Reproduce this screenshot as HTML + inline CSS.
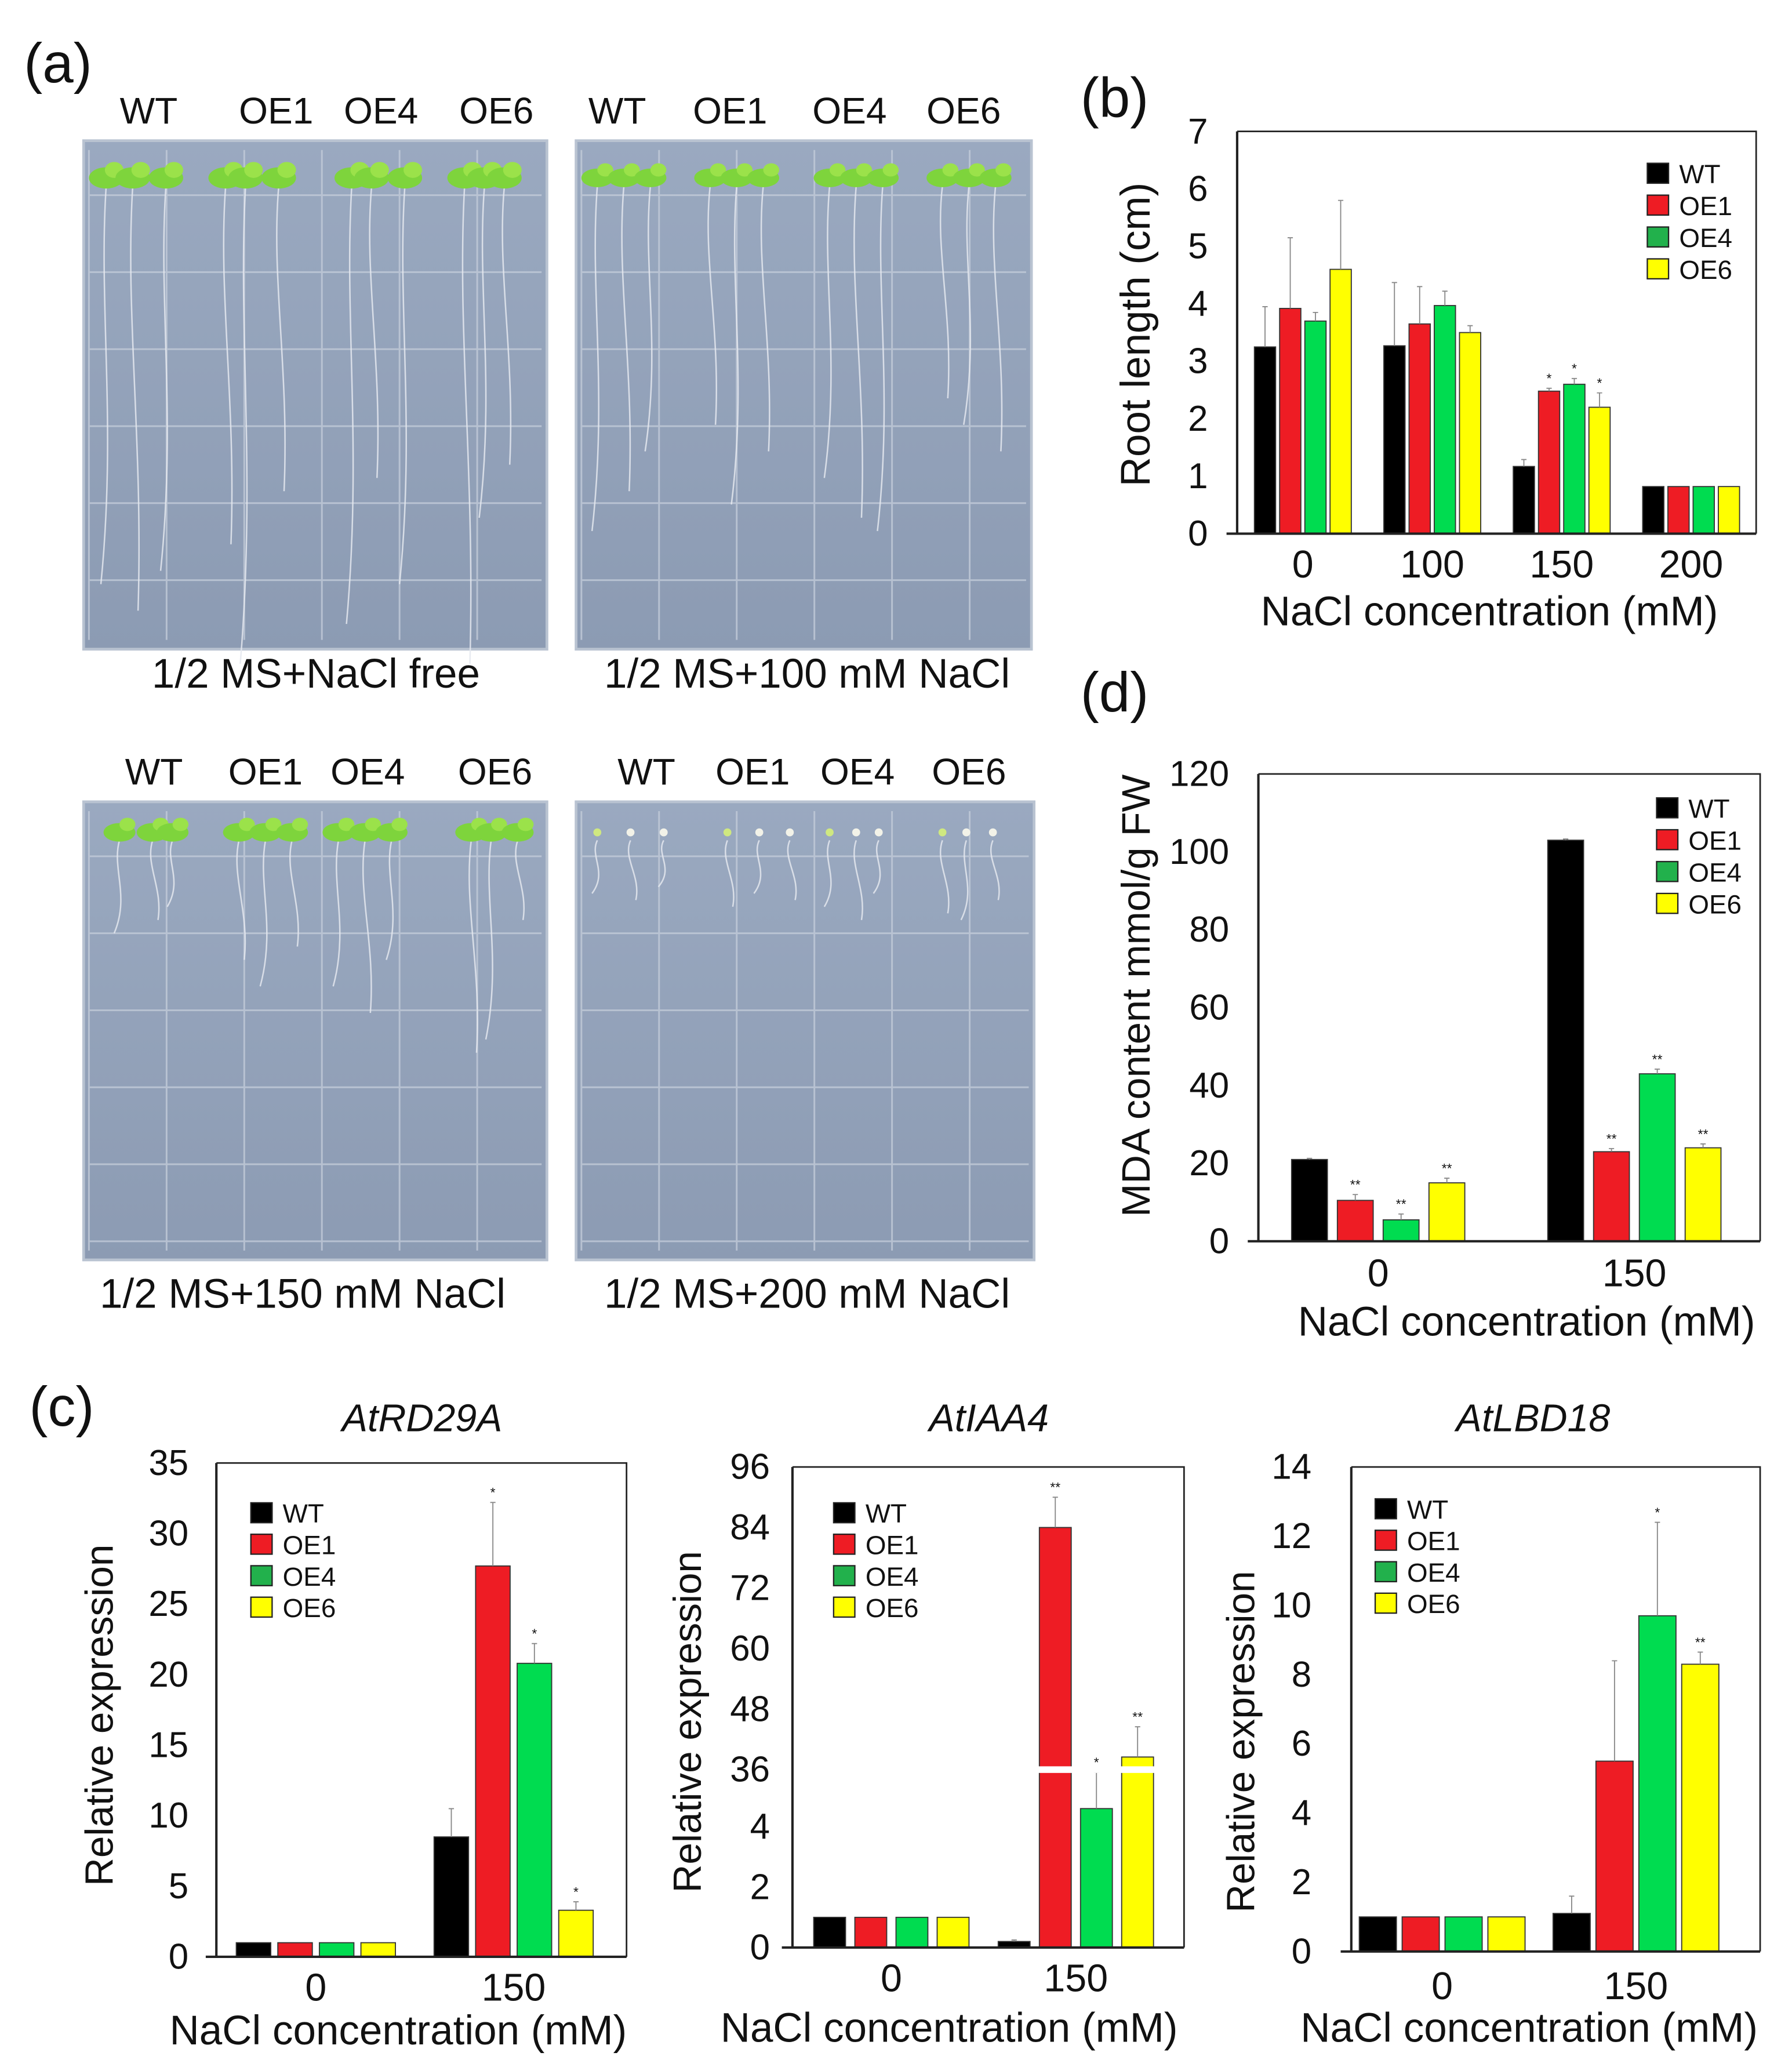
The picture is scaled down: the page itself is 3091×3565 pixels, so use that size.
<!DOCTYPE html>
<html><head><meta charset="utf-8"><style>
html,body{margin:0;padding:0;background:#fff}
svg{display:block}
text{font-family:"Liberation Sans",sans-serif;fill:#111}
</style></head><body>
<svg id="fig" width="3091" height="3565" viewBox="0 0 1350 1557" preserveAspectRatio="none" xmlns="http://www.w3.org/2000/svg">
<defs>
<linearGradient id="pg" x1="0" y1="0" x2="0" y2="1"><stop offset="0" stop-color="#9aa9c0"/><stop offset="1" stop-color="#8c9bb3"/></linearGradient>
</defs>
<rect width="1350" height="1557" fill="#fff"/>
<g id="photos"></g>
<g id="charts"></g>
</svg>
<script>
const NS="http://www.w3.org/2000/svg";
const fig=document.getElementById('fig');
function el(tag,attrs,parent,txt){const e=document.createElementNS(NS,tag);for(const k in attrs)e.setAttribute(k,attrs[k]);if(txt!==undefined)e.textContent=txt;(parent||fig).appendChild(e);return e;}
const COLORS=["#000000","#ee1c24","#00dc50","#ffff00"];
const LCOLORS=["#000000","#ee1c24","#22b14c","#ffff00"];
const SERIES=["WT","OE1","OE4","OE6"];

// ---- data ----
const bCats=["0","100","150","200"];
const bWT=[3.25,3.27,1.17,0.82];
const bOE1=[3.92,3.65,2.48,0.82];
const bOE4=[3.7,3.97,2.6,0.82];
const bOE6=[4.6,3.5,2.2,0.82];
const bErr=[[0.7,1.1,0.12,0],[1.23,0.65,0.05,0],[0.15,0.25,0.1,0],[1.2,0.12,0.25,0]];
const bTicks=[0,1,2,3,4,5,6,7];

const dCats=["0","150"];
const dWT=[21,103];
const dOE1=[10.5,23];
const dOE4=[5.5,43];
const dOE6=[15,24];
const dErr=[[0.3,0.3],[1.5,0.8],[1.5,1.2],[1.2,1]];
const dTicks=[0,20,40,60,80,100,120];

const c1Cats=["0","150"];
const c1WT=[1,8.5];
const c1OE1=[1,27.7];
const c1OE4=[1,20.8];
const c1OE6=[1,3.3];
const c1Err=[[0,2],[0,4.5],[0,1.4],[0,0.6]];
const c1Ticks=[0,5,10,15,20,25,30,35];

const c2Cats=["0","150"];
const c2WT=[1,0.2];
const c2OE1=[1,84];
const c2OE4=[1,4.6];
const c2OE6=[1,38.5];
const c2Err=[[0,0.05],[0,6],[0,1.2],[0,6]];
const c2TickLabels=["0","2","4","36","48","60","72","84","96"];
const c2TickValues=[0,2,4,36,48,60,72,84,96];

const c3Cats=["0","150"];
const c3WT=[1,1.1];
const c3OE1=[1,5.5];
const c3OE4=[1,9.7];
const c3OE6=[1,8.3];
const c3Err=[[0,0.5],[0,2.9],[0,2.7],[0,0.35]];
const c3Ticks=[0,2,4,6,8,10,12,14];

// ---- generic bar chart ----
function chart(cfg){
  const g=el('g',{},document.getElementById('charts'));
  
  
  const {x0,x1,y0,y1}=cfg.frame;
  const ys=cfg.yscale;
  const series=cfg.series;
  for(let s=0;s<4;s++){
    for(let c=0;c<cfg.cats.length;c++){
      const v=series[s][c];
      const bx=cfg.groupX(c)+s*cfg.pitch;
      const top=ys(v);
      const r=el('rect',{x:bx,y:top,width:cfg.bw,height:y0-top,fill:COLORS[s],stroke:"#333","stroke-width":0.8},g);
      
      
      const e=cfg.err[s][c];
      if(e>0){
        const et=ys(v+e);const cx=bx+cfg.bw/2;
        const l=el('path',{d:`M${cx},${top}V${et}M${cx-2},${et}H${cx+2}`,stroke:"#888","stroke-width":0.8,fill:"none"},g);
        
        
      }
      if(cfg.stars&&cfg.stars[s][c]){
        const st=el('text',{x:bx+cfg.bw/2,y:ys(v+e)-4,"text-anchor":"middle","font-size":10,fill:"#444"},g,cfg.stars[s][c]);
        
        
      }
    }
  }
  if(cfg.breakY){
    const b=el('rect',{x:cfg.groupX(1)-2,y:cfg.breakY-2.5,width:4*cfg.pitch+4,height:5,fill:"#fff"},g);
    
    
    const b2=el('rect',{x:x0-2,y:cfg.breakY-2.5,width:5,height:5,fill:"#fff"},g);
    
    
  }
  const f=el('path',{d:`M${x0},${y1}H${x1}V${y0}M${x0},${y0}H${x1}`,fill:"none",stroke:"#222","stroke-width":1.2},g);
  
  
  const ya=el('path',{d:`M${x0},${y1}V${y0}`,fill:"none",stroke:"#222","stroke-width":1.8},g);
  
  
  const xa=el('path',{d:`M${x0-8},${y0}H${x1}`,fill:"none",stroke:"#222","stroke-width":1.8},g);
  
  
  for(let i=0;i<cfg.tickValues.length;i++){
    const t=el('text',{x:cfg.tickX,y:ys(cfg.tickValues[i])+9,"text-anchor":"end","font-size":27},g,cfg.tickLabels[i]);
    
    
  }
  for(let c=0;c<cfg.cats.length;c++){
    const cx=cfg.groupX(c)+(3*cfg.pitch+cfg.bw)/2;
    const t=el('text',{x:cx,y:cfg.xlabY,"text-anchor":"middle","font-size":29},g,cfg.cats[c]);
    
    
  }
  const xt=el('text',{x:cfg.xtitle[0],y:cfg.xtitle[1],"text-anchor":"middle","font-size":31},g,"NaCl concentration (mM)");
  
  
  const yt=el('text',{x:0,y:0,"text-anchor":"middle","font-size":cfg.yfs||30,transform:`translate(${cfg.ytitle[0]},${cfg.ytitle[1]}) rotate(-90)`},g,cfg.ytitleText);
  
  
  if(cfg.title){
    const tt=el('text',{x:cfg.title[0],y:cfg.title[1],"text-anchor":"middle","font-size":29,"font-style":"italic"},g,cfg.title[2]);
    
    
  }
  for(let s=0;s<4;s++){
    const ly=cfg.legend[1]+s*cfg.legend[2];
    const r=el('rect',{x:cfg.legend[0],y:ly-8,width:16,height:15,fill:LCOLORS[s],stroke:"#222","stroke-width":1},g);
    
    
    const t=el('text',{x:cfg.legend[0]+24,y:ly+7,"font-size":20},g,SERIES[s]);
    
    
  }
  if(cfg.panel){
    const p=el('text',{x:cfg.panel[0],y:cfg.panel[1],"font-size":42},g,cfg.panel[2]);
    
    
  }
}
function lin(v0,p0,v1,p1){return v=>p0+(v-v0)*(p1-p0)/(v1-v0);}

chart({name:'root-length-chart',frame:{x0:932,x1:1323,y0:402,y1:99},yscale:lin(0,402,7,99),
 cats:bCats,series:[bWT,bOE1,bOE4,bOE6],err:bErr,bw:16,pitch:19,groupX:c=>945+c*97.5,
 stars:[["","","",""],["","","*",""],["","","*",""],["","","*",""]],
 tickValues:bTicks,tickLabels:bTicks.map(String),tickX:910,xlabY:435,xtitle:[1122,471],yfs:31,
 ytitle:[866,252],ytitleText:"Root length (cm)",legend:[1241,131,24],panel:[814,88,"(b)"]});
chart({name:'mda-content-chart',frame:{x0:948,x1:1326,y0:935,y1:583},yscale:lin(0,935,120,583),
 cats:dCats,series:[dWT,dOE1,dOE4,dOE6],err:dErr,bw:27,pitch:34.5,groupX:c=>973+c*193,
 stars:[["",""],["**","**"],["**","**"],["**","**"]],
 tickValues:dTicks,tickLabels:dTicks.map(String),tickX:926,xlabY:969,xtitle:[1150,1006],yfs:30,
 ytitle:[866,750],ytitleText:"MDA content mmol/g FW",legend:[1248,609,24],panel:[814,536,"(d)"]});
chart({name:'atrd29a-expression-chart',frame:{x0:163,x1:472,y0:1474,y1:1102},yscale:lin(0,1474,35,1102),
 cats:c1Cats,series:[c1WT,c1OE1,c1OE4,c1OE6],err:c1Err,bw:26,pitch:31.3,groupX:c=>178+c*149,
 stars:[["",""],["","*"],["","*"],["","*"]],
 tickValues:c1Ticks,tickLabels:c1Ticks.map(String),tickX:142,xlabY:1507,xtitle:[300,1540],yfs:29.5,
 ytitle:[85,1292],ytitleText:"Relative expression",legend:[189,1140,23.7],title:[318,1078,"AtRD29A"],panel:[22,1074,"(c)"]});
const c2scale=v=> v<=6 ? 1467 - v*22.75 : 1333 - (v-36)*3.8;
chart({name:'atiaa4-expression-chart',frame:{x0:597,x1:892,y0:1467,y1:1105},yscale:c2scale,
 cats:c2Cats,series:[c2WT,c2OE1,c2OE4,c2OE6],err:c2Err,bw:24,pitch:31,groupX:c=>613+c*139,breakY:1333,
 stars:[["",""],["","**"],["","*"],["","**"]],
 tickValues:c2TickValues,tickLabels:c2TickLabels,tickX:580,xlabY:1500,xtitle:[715,1538],yfs:29.5,
 ytitle:[528,1297],ytitleText:"Relative expression",legend:[628,1140,23.7],title:[745,1078,"AtIAA4"]});
chart({name:'atlbd18-expression-chart',frame:{x0:1018,x1:1326,y0:1470,y1:1105},yscale:lin(0,1470,14,1105),
 cats:c3Cats,series:[c3WT,c3OE1,c3OE4,c3OE6],err:c3Err,bw:28,pitch:32.3,groupX:c=>1024+c*146,
 stars:[["",""],["",""],["","*"],["","**"]],
 tickValues:c3Ticks,tickLabels:c3Ticks.map(String),tickX:988,xlabY:1506,xtitle:[1152,1538],yfs:29.5,
 ytitle:[945,1312],ytitleText:"Relative expression",legend:[1036,1137,23.7],title:[1155,1078,"AtLBD18"]});

// ---- photos panel (a) ----
const P=document.getElementById('photos');
const pa=el('text',{x:18,y:62,"font-size":42},P,"(a)");


const plates=[
 {x:62,y:105,w:351,h:385,cap:"1/2 MS+NaCl free",capx:238,capy:518,lab:[[112,"WT"],[208,"OE1"],[287,"OE4"],[374,"OE6"]],laby:93,
  roots:[[80,300],[100,320],[125,290],[170,270],[185,360],[210,230],[265,330],[280,220],[305,300],[350,360],[365,250],[380,210]],leaf:9},
 {x:433,y:105,w:345,h:385,cap:"1/2 MS+100 mM NaCl",capx:608,capy:518,lab:[[465,"WT"],[550,"OE1"],[640,"OE4"],[726,"OE6"]],laby:93,
  roots:[[450,260],[470,230],[490,200],[535,180],[555,240],[575,200],[625,220],[645,250],[665,260],[710,160],[730,180],[750,200]],leaf:8},
 {x:62,y:603,w:351,h:347,cap:"1/2 MS+150 mM NaCl",capx:228,capy:985,lab:[[116,"WT"],[200,"OE1"],[277,"OE4"],[373,"OE6"]],laby:591,
  roots:[[90,70],[115,60],[130,50],[180,90],[200,110],[220,80],[255,110],[275,130],[295,90],[355,160],[370,150],[390,60]],leaf:8},
 {x:433,y:603,w:347,h:347,cap:"1/2 MS+200 mM NaCl",capx:608,capy:985,lab:[[487,"WT"],[567,"OE1"],[646,"OE4"],[730,"OE6"]],laby:591,
  roots:[[450,40],[475,45],[500,35],[548,50],[572,40],[595,45],[625,50],[645,60],[662,40],[710,55],[728,60],[748,45]],leaf:4}
];
plates.forEach((p,i)=>{
  const g=el('g',{},P);
  
  
  el('rect',{x:p.x,y:p.y,width:p.w,height:p.h,fill:"url(#pg)"},g);
  let d="";
  for(let gx=p.x+5;gx<p.x+p.w;gx+=58.5)d+=`M${gx},${p.y+8}V${p.y+p.h-8}`;
  for(let gy=p.y+42;gy<p.y+p.h;gy+=58)d+=`M${p.x+5},${gy}H${p.x+p.w-5}`;
  el('path',{d,stroke:"#c2cbd8","stroke-width":1.3,fill:"none",opacity:0.8},g);
  el('rect',{x:p.x+1,y:p.y+1,width:p.w-2,height:p.h-2,fill:"none",stroke:"#b9c3d1","stroke-width":2},g);
  p.roots.forEach(([rx,len],k)=>{
    const top=p.y+(i<2?35:30);
    el('path',{d:`M${rx},${top}C${rx-6},${top+len*0.3} ${rx+8},${top+len*0.6} ${rx+(k%2?4:-4)},${top+len}`,stroke:"#e4e8ee","stroke-width":1.1,fill:"none",opacity:0.85},g);
    if(i<3){
      el('ellipse',{cx:rx,cy:top-6,rx:p.leaf+4,ry:p.leaf-1,fill:"#7ed43c"},g);
      el('ellipse',{cx:rx+6,cy:top-12,rx:p.leaf-2,ry:p.leaf-3,fill:"#9be24a"},g);
    }else{
      el('circle',{cx:rx,cy:top-6,r:3,fill:k%3==0?"#cfe880":"#f2f2e8"},g);
    }
  });
  p.lab.forEach(([lx,t])=>{
    const tx=el('text',{x:lx,y:p.laby,"text-anchor":"middle","font-size":28},P,t);
    
    
  });
  const c=el('text',{x:p.capx,y:p.capy,"text-anchor":"middle","font-size":31},P,p.cap);
  
  
});
</script>
</body></html>
